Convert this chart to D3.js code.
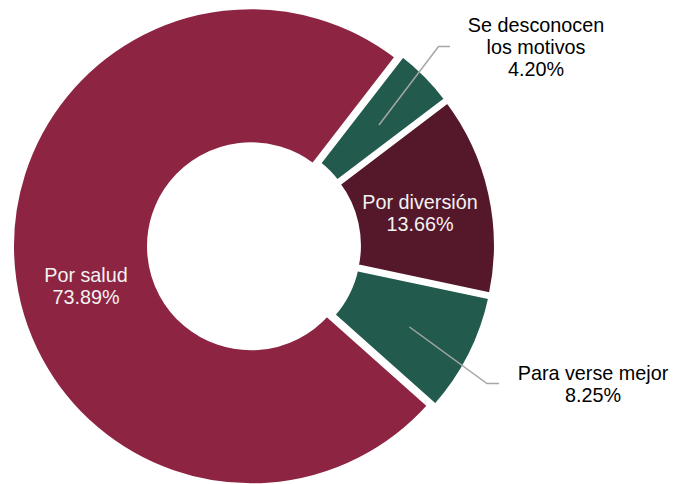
<!DOCTYPE html>
<html>
<head>
<meta charset="utf-8">
<script src="https://cdn.jsdelivr.net/npm/d3@7"></script>
<style>
  html, body { margin: 0; padding: 0; background: #ffffff; }
  svg { display: block; }
  text { font-family: "Liberation Sans", Arial, sans-serif; }
</style>
</head>
<body>
<svg id="chart" width="673" height="484"></svg>
<script>
// ---- data ----
const categories = ["Se desconocen los motivos", "Por diversión", "Para verse mejor", "Por salud"];
const values = [4.20, 13.66, 8.25, 73.89];
const labelLines = [
  ["Se desconocen", "los motivos", "4.20%"],
  ["Por diversión", "13.66%"],
  ["Para verse mejor", "8.25%"],
  ["Por salud", "73.89%"]
];
const colors = ["#225B4D", "#55182B", "#225B4D", "#8C2442"];

// ---- layout ----
const W = 673, H = 484;
const cx = 254, cy = 246;
const outerR = 239.5, innerR = 101.5;
const explode = 3;
const startDeg = 37.7;

const svg = d3.select("#chart");
const g = svg.append("g").attr("transform", `translate(${cx},${cy})`);

const pie = d3.pie().sort(null).value(d => d)
  .startAngle(startDeg * Math.PI / 180)
  .endAngle(startDeg * Math.PI / 180 + 2 * Math.PI);
const arcs = pie(values);
const arc = d3.arc().innerRadius(innerR).outerRadius(outerR);

g.selectAll("path.slice").data(arcs).enter().append("path")
  .attr("class", "slice")
  .attr("d", arc)
  .attr("fill", (d, i) => colors[i])
  .attr("stroke", "#ffffff")
  .attr("stroke-width", 5)
  .attr("stroke-linejoin", "miter")
  .attr("transform", d => {
    const a = (d.startAngle + d.endAngle) / 2;
    return `translate(${explode * Math.sin(a)},${-explode * Math.cos(a)})`;
  });

// label placement (screen coordinates), index aligned with categories
const labelLayout = [
  { x: 536, y: 32, color: "#000000" },
  { x: 420, y: 209, color: "#f2f2f2" },
  { x: 593, y: 380, color: "#000000" },
  { x: 86, y: 282, color: "#f2f2f2" }
];
const lineH = 22.2;

// leader lines for outside labels: [start point (inside slice), elbow, end]
const leaders = [
  { i: 0, pts: [[379, 125], [438.5, 46.5], [450, 46.5]] },
  { i: 2, pts: [[409.5, 327], [487, 383.5], [499, 383.5]] }
];
const line = d3.line();
svg.selectAll("path.leader").data(leaders).enter().append("path")
  .attr("class", "leader")
  .attr("d", d => line(d.pts))
  .attr("fill", "none")
  .attr("stroke", "#a6a6a6")
  .attr("stroke-width", 1.5);

labelLines.forEach((lines, i) => {
  const L = labelLayout[i];
  const t = svg.append("text")
    .attr("text-anchor", "middle")
    .attr("font-size", 19.8)
    .attr("fill", L.color);
  lines.forEach((s, k) => {
    t.append("tspan").attr("x", L.x).attr("y", L.y + k * lineH).text(s);
  });
});
</script>
</body>
</html>
